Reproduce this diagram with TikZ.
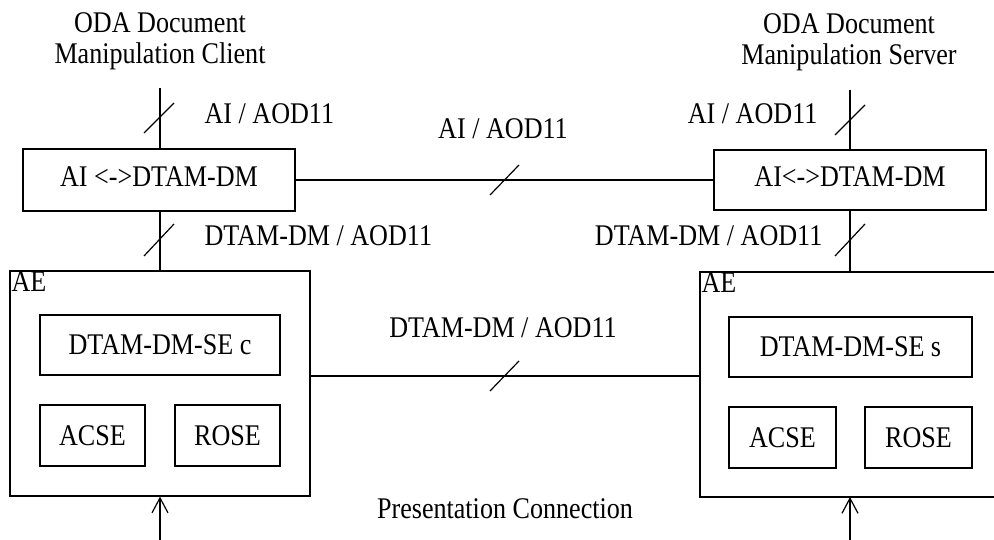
\documentclass[tikz,border=0pt]{standalone}
\usepackage{fontspec}
\setmainfont{Liberation Serif}[FakeStretch=0.87]
\usetikzlibrary{arrows.meta}
\begin{document}
\begin{tikzpicture}[x=1pt,y=-1pt,line width=1.2pt,
  every node/.style={font=\fontsize{30}{31}\selectfont},
  box/.style={draw,rectangle,inner sep=0pt},
  lbl/.style={inner sep=0pt},
  tip/.style={-{Straight Barb[length=15pt,width=16pt,line width=1.2pt]}}]
\useasboundingbox (0,0) rectangle (994,540);
% titles
\node[lbl,align=center] (tc) at (160,41) {ODA Document\\Manipulation Client};
\node[lbl,align=center] (ts) at (849,42) {ODA Document\\Manipulation Server};
% upper boxes
\node[box,minimum width=272pt,minimum height=62pt] (cl) at (159,180) {};
\node[lbl] at (159,177) {AI <->DTAM-DM};
\node[box,minimum width=272pt,minimum height=60pt] (sr) at (850,180) {};
\node[lbl] at (850,177) {AI<->DTAM-DM};
% AE left
\node[box,minimum width=300pt,minimum height=225pt] (aeL) at (160,383.5) {};
\node[lbl,anchor=north west] (aeLt) at (11,271) {AE};
\node[box,minimum width=240pt,minimum height=60pt] (seC) at (160,345) {DTAM-DM-SE c};
\node[box,minimum width=105pt,minimum height=61pt] (acC) at (92.5,435.5) {ACSE};
\node[box,minimum width=105pt,minimum height=61pt] (roC) at (227.5,435.5) {ROSE};
% AE right (open on the right edge)
\coordinate (aeRtr) at (996,272);
\coordinate (aeRtl) at (700,272);
\coordinate (aeRbl) at (700,497);
\coordinate (aeRbr) at (996,497);
\draw (aeRtr) -- (aeRtl) -- (aeRbl) -- (aeRbr);
\node[lbl,anchor=north west] (aeRt) at (701,272) {AE};
\node[box,minimum width=243pt,minimum height=60pt] (seS) at (850.5,347) {DTAM-DM-SE s};
\node[box,minimum width=107pt,minimum height=61pt] (acS) at (782.5,437.5) {ACSE};
\node[box,minimum width=107pt,minimum height=61pt] (roS) at (918.5,437.5) {ROSE};
% vertical connectors
\coordinate (topL) at (160,88);
\coordinate (topR) at (850,90);
\coordinate (aeRn) at (850,272);
\coordinate (aeRs) at (850,497);
\coordinate (botL) at (160,541);
\coordinate (botR) at (850,541);
\draw (topL) -- (cl.north -| topL);
\draw (cl.south -| topL) -- (aeL.north);
\draw (topR) -- (sr.north);
\draw (sr.south) -- (aeRn);
\draw[tip] (botL) -- (aeL.south);
\draw[tip] (botR) -- (aeRs);
% horizontal connectors
\coordinate (aeRw) at (700,376);
\draw (cl.east) -- (sr.west);
\draw ([yshift=7.5pt]aeL.east) -- (aeRw);
% slashes
\draw (159,118) +(-15,15) -- +(15,-15);
\draw (159,240) +(-15,16) -- +(15,-16);
\draw (850,120) +(-15,15) -- +(15,-15);
\draw (850,240) +(-15,16) -- +(15,-16);
\draw (504,180) +(-14,15) -- +(15,-15);
\draw (504,376) +(-14,15) -- +(15,-15);
% labels
\node[lbl,anchor=west] (l1) at (204,114) {AI / AOD11};
\node[lbl,anchor=east] (l2) at (818,114) {AI / AOD11};
\node[lbl,anchor=west] (l3) at (204,236) {DTAM-DM / AOD11};
\node[lbl,anchor=east] (l4) at (823,236) {DTAM-DM / AOD11};
\node[lbl] (l5) at (503,129) {AI / AOD11};
\node[lbl] (l6) at (503,328) {DTAM-DM / AOD11};
\node[lbl] (l7) at (505,509) {Presentation Connection};
\end{tikzpicture}
\end{document}
